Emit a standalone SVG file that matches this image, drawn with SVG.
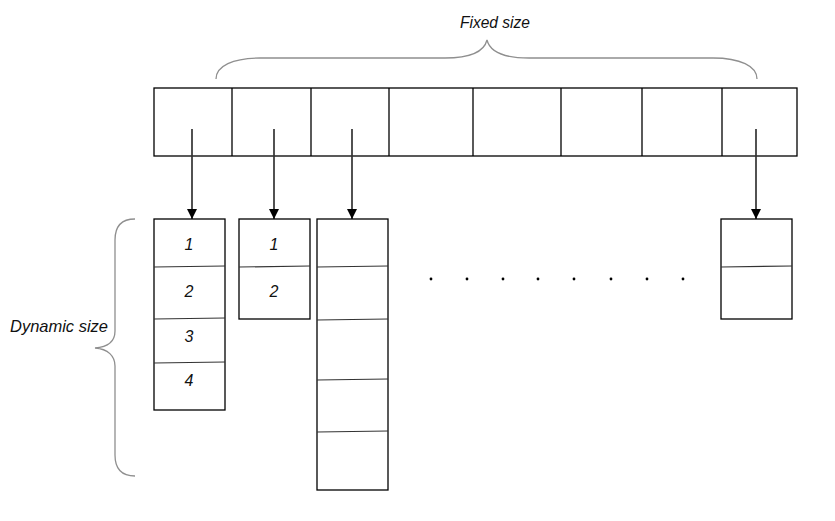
<svg xmlns="http://www.w3.org/2000/svg" width="835" height="521" viewBox="0 0 835 521">
<defs>
<style>
.box{fill:#fff;stroke:#000;stroke-width:1.3}
.div{stroke:#000;stroke-width:1.3}
.sub{stroke:#333;stroke-width:1.2}
.brace{fill:none;stroke:#8f8f8f;stroke-width:1.3}
.conn{stroke:#333;stroke-width:1.7;fill:none;marker-end:url(#ah)}
.lbl{font-family:"Liberation Sans",Arial,sans-serif;font-style:italic;fill:#111}
.num{font-family:"Liberation Sans",Arial,sans-serif;font-style:italic;font-size:16px;fill:#111;text-anchor:middle}
.dot{fill:#000}
</style>
<marker id="ah" markerWidth="12" markerHeight="12" refX="10" refY="5.5" orient="auto" markerUnits="userSpaceOnUse">
<path d="M0,0.5 L10,5.5 L0,10.5 Z" fill="#000"/>
</marker>
</defs>
<rect width="835" height="521" fill="#fff"/>

<g id="fixed-label">
<path class="brace" d="M216,79 C216,66 233,58 260,58 L445,58 C470,58 484,52 487,40 C490,52 504,58 529,58 L713,58 C740,58 757,66 757,79"/>
<text class="lbl" x="495" y="28" font-size="16.5" text-anchor="middle" textLength="70" lengthAdjust="spacingAndGlyphs">Fixed size</text>
</g>

<g id="array">
<rect class="box" x="154" y="88" width="643" height="68"/>
<line class="div" x1="232" y1="88" x2="232" y2="156"/>
<line class="div" x1="311" y1="88" x2="311" y2="156"/>
<line class="div" x1="389" y1="88" x2="389" y2="156"/>
<line class="div" x1="473" y1="88" x2="473" y2="156"/>
<line class="div" x1="561" y1="88" x2="561" y2="156"/>
<line class="div" x1="642" y1="88" x2="642" y2="156"/>
<line class="div" x1="722" y1="88" x2="722" y2="156"/>
</g>

<g id="connectors">
<line class="conn" x1="192" y1="129" x2="192" y2="219"/>
<line class="conn" x1="274" y1="129" x2="274" y2="219"/>
<line class="conn" x1="352" y1="129" x2="352" y2="219"/>
<line class="conn" x1="756" y1="129" x2="756" y2="219"/>
</g>

<g id="list1">
<rect class="box" x="154" y="219" width="71" height="191"/>
<line class="sub" x1="154" y1="267" x2="225" y2="266"/>
<line class="sub" x1="154" y1="319" x2="225" y2="318"/>
<line class="sub" x1="154" y1="363" x2="225" y2="362"/>
<text class="num" x="189" y="250">1</text>
<text class="num" x="189" y="297">2</text>
<text class="num" x="189" y="342">3</text>
<text class="num" x="189" y="386">4</text>
</g>

<g id="list2">
<rect class="box" x="239" y="219" width="71" height="100"/>
<line class="sub" x1="239" y1="267" x2="310" y2="266"/>
<text class="num" x="274" y="250">1</text>
<text class="num" x="274" y="297">2</text>
</g>

<g id="list3">
<rect class="box" x="317" y="219" width="71" height="271"/>
<line class="sub" x1="317" y1="267" x2="388" y2="266"/>
<line class="sub" x1="317" y1="320" x2="388" y2="319"/>
<line class="sub" x1="317" y1="380" x2="388" y2="379"/>
<line class="sub" x1="317" y1="432" x2="388" y2="431"/>
</g>

<g id="ellipsis">
<circle class="dot" cx="431" cy="279" r="1.4"/>
<circle class="dot" cx="467" cy="279" r="1.4"/>
<circle class="dot" cx="503" cy="279" r="1.4"/>
<circle class="dot" cx="538" cy="279" r="1.4"/>
<circle class="dot" cx="574" cy="279" r="1.4"/>
<circle class="dot" cx="611" cy="279" r="1.4"/>
<circle class="dot" cx="647" cy="279" r="1.4"/>
<circle class="dot" cx="683" cy="279" r="1.4"/>
</g>

<g id="listN">
<rect class="box" x="721" y="219" width="71" height="100"/>
<line class="sub" x1="721" y1="267" x2="792" y2="266"/>
</g>

<g id="dynamic-label">
<path class="brace" d="M135,219 C122,219 115,226 115,240 L115,331 C115,341 108,347 95,348 C108,349 115,356 115,366 L115,455 C115,469 122,476 135,476"/>
<text class="lbl" x="10" y="332" font-size="16.5" textLength="98" lengthAdjust="spacingAndGlyphs">Dynamic size</text>
</g>
</svg>
